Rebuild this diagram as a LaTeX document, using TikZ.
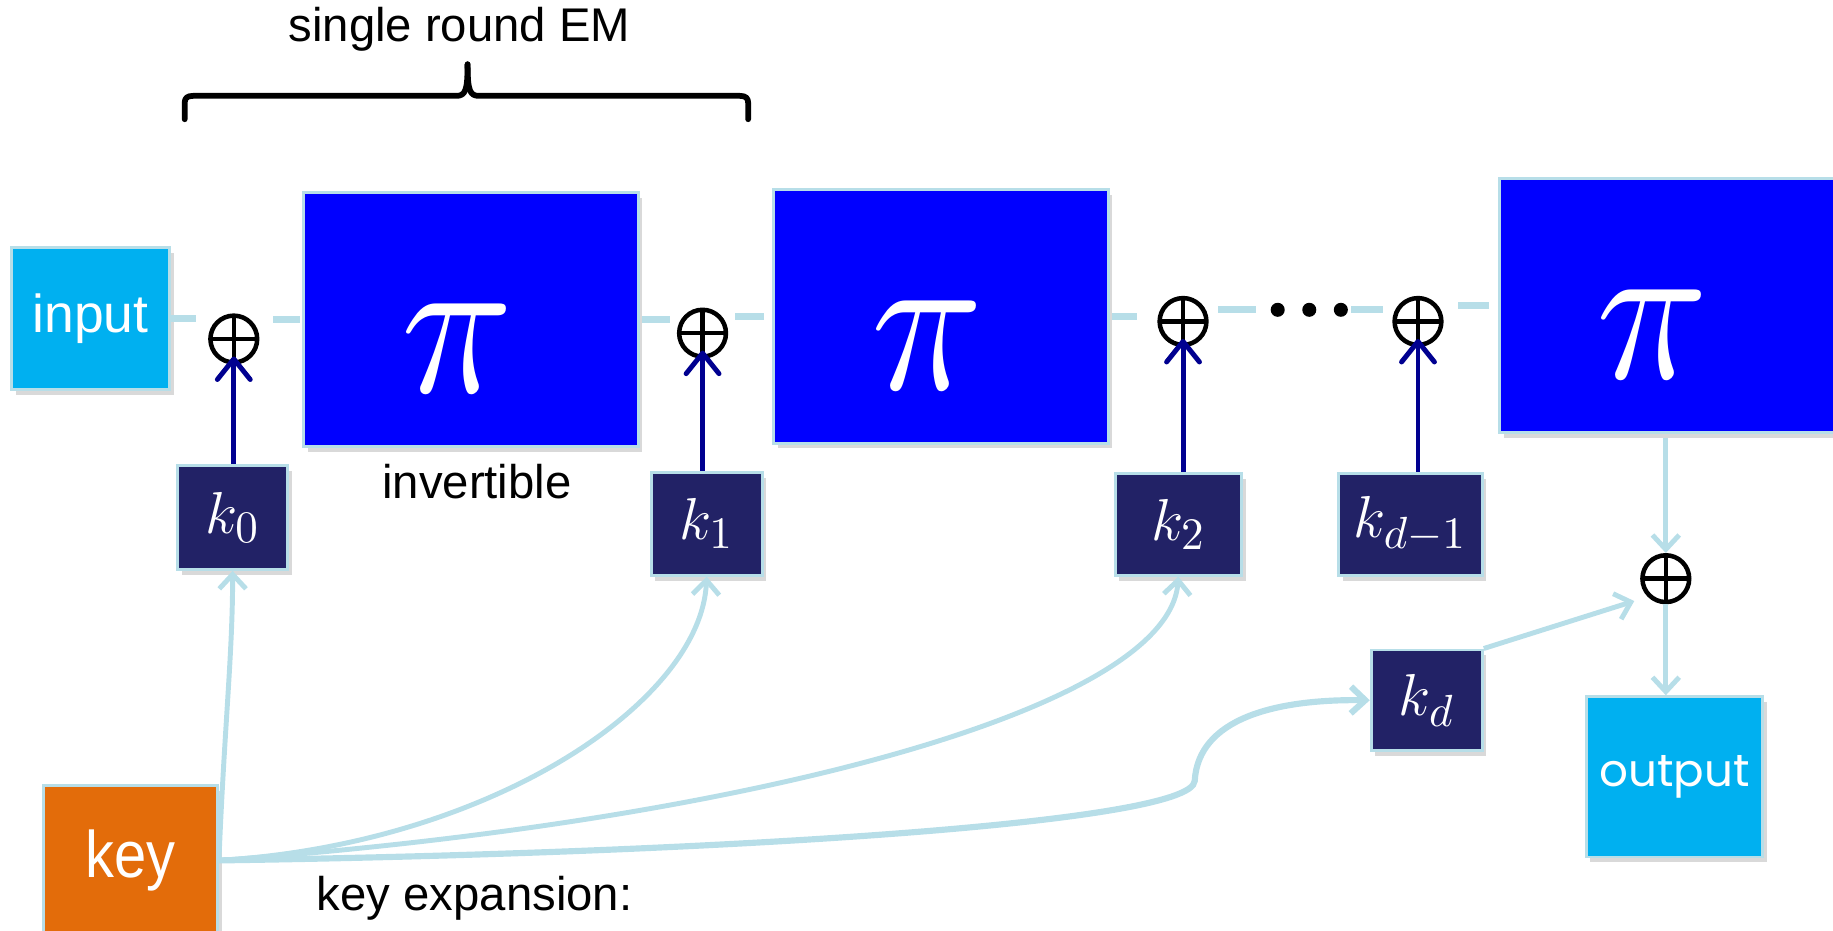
\documentclass[tikz,border=0pt]{standalone}
\usepackage{graphicx}
\usepackage{fontspec}
\setmainfont{Liberation Sans}
\newfontfamily\outfont{Poppins}
\usetikzlibrary{arrows.meta,shadows}
\definecolor{cyanbox}{HTML}{00B0F0}
\definecolor{pibl}{HTML}{0000FF}
\definecolor{knavy}{RGB}{34,34,102}
\definecolor{keyor}{RGB}{227,108,10}
\definecolor{lblue}{HTML}{B7DEE8}
\definecolor{darkar}{RGB}{0,0,144}
\begin{document}
\begin{tikzpicture}[x=0.01cm,y=-0.01cm,
  box/.style={draw=lblue, line width=0.7pt, inner sep=0pt,
    drop shadow={shadow xshift=1pt,shadow yshift=-1.3pt,opacity=0.3}},
  inbox/.style={box, fill=cyanbox, text=white},
  pibox/.style={box, fill=pibl, minimum width=2.86cm, minimum height=2.17cm},
  kbox/.style={box, fill=knavy, text=white, font=\fontsize{15}{15}\selectfont, minimum height=0.88cm},
  xorn/.style={circle, draw=black, line width=1.1pt, minimum size=0.4cm, inner sep=0pt,
    path picture={\draw[line width=1.1pt] (path picture bounding box.north) -- (path picture bounding box.south)
      (path picture bounding box.west) -- (path picture bounding box.east);}},
  pilabel/.style={text=white, xshift=-3.4pt, yshift=-7pt},
  hl/.style={draw=lblue, line width=1.7pt},
  darr/.style={draw=darkar, line width=1.2pt, -{Straight Barb[length=5pt,width=8pt,round]}},
  larr/.style={draw=lblue, line width=1.2pt, -{Straight Barb[length=3.5pt,width=6.5pt]}},
  txt/.style={font=\fontsize{11.5}{13}\selectfont, text=black},
  brace/.style={line width=1.4pt, line cap=round, line join=round}
]
\useasboundingbox (0,0) rectangle (1568,796);

% boxes
\node[inbox, minimum width=1.35cm, minimum height=1.21cm, font=\fontsize{13}{13}\selectfont] (inp) at (77.5,272.5) {input};
\node[pibox, label={[pilabel]center:\scalebox{4.5}[5.0]{$\pi$}}] (pi1) at (403,273.5) {};
\node[pibox, label={[pilabel]center:\scalebox{4.5}[5.0]{$\pi$}}] (pi2) at (805,270.5) {};
\node[pibox, label={[pilabel]center:\scalebox{4.5}[5.0]{$\pi$}}] (pi3) at (1426,261.5) {};

\node[kbox, minimum width=0.94cm, minimum height=0.89cm] (k0) at (199,442.5) {$k_0$};
\node[kbox, minimum width=0.95cm] (k1) at (604.5,448) {$k_1$};
\node[kbox, minimum width=1.08cm, minimum height=0.87cm] (k2) at (1008,448.5) {$k_2$};
\node[kbox, minimum width=1.23cm, minimum height=0.87cm] (kdm) at (1206.5,448.5) {$k_{d-1}$};
\node[kbox, minimum width=0.95cm, minimum height=0.86cm] (kd) at (1220.5,599) {$k_d$};

\node[inbox, minimum width=1.51cm, minimum height=1.37cm, font=\outfont\fontsize{11}{13}\selectfont] (out) at (1432.5,664.5) {output};
\node[box, fill=keyor, text=white, minimum width=1.49cm, minimum height=1.28cm, font=\fontsize{16}{16}\selectfont] (key) at (111.5,736) {\scalebox{0.88}[1]{key}};

% xor nodes
\node[xorn] (x1) at (200,290) {};
\node[xorn] (x2) at (601,285) {};
\node[xorn] (x3) at (1012,275) {};
\node[xorn] (x4) at (1213,275) {};
\node[xorn] (x5) at (1425,495) {};

% dots
\node[minimum width=0.66cm, minimum height=0.12cm, inner sep=0pt] (dots) at (1120,265) {};
\fill (1093,265) circle[radius=0.06cm];
\fill (1120,265) circle[radius=0.06cm];
\fill (1147,265) circle[radius=0.06cm];

% horizontal data line segments
\draw[hl, shorten >=0.1cm] (inp.east) -- (inp.east -| x1.west);
\draw[hl, shorten >=0.12cm, shorten <=0.02cm] (pi1.west) -- (pi1.west -| x1.east);
\draw[hl, shorten >=0.06cm, shorten <=0.02cm] (pi1.east) -- (pi1.east -| x2.west);
\draw[hl, shorten >=0.06cm, shorten <=0.07cm] (pi2.west) -- (pi2.west -| x2.east);
\draw[hl, shorten >=0.17cm, shorten <=0.02cm] (pi2.east) -- (pi2.east -| x3.west);
\draw[hl, shorten >=0.08cm, shorten <=0.12cm] (dots.west) -- (dots.west -| x3.east);
\draw[hl, shorten >=0.08cm, shorten <=0.02cm] (dots.east) -- (dots.east -| x4.west);
\draw[hl, shorten >=0.12cm, shorten <=0.08cm] (pi3.west) -- (pi3.west -| x4.east);

% key arrows into xors
\draw[darr, shorten >=-0.07cm] (k0.north -| x1.center) -- (x1.south);
\draw[darr, shorten >=-0.07cm] (k1.north -| x2.center) -- (x2.south);
\draw[darr, shorten >=-0.07cm] (k2.north -| x3.center) -- (x3.south);
\draw[darr, shorten >=-0.07cm] (kdm.north -| x4.center) -- (x4.south);

% final whitening
\draw[larr, shorten <=0.03cm] (pi3.south -| x5.north) -- (x5.north);
\draw[larr] (x5.south) -- (x5.south |- out.north);
\draw[larr, shorten >=0.12cm] (kd.north east) -- (x5.south west);

% key expansion curves
\coordinate (kbend) at (1022,668);
\draw[larr] (key.east) .. controls (192,620) and (199,560) .. (k0.south);
\draw[larr] (key.east) .. controls (420,722) and (600,600) .. (k1.south);
\draw[larr] (key.east) .. controls (620,705) and (1000,610) .. (k2.south);
\draw[larr, line width=1.5pt] (key.east) .. controls (600,730) and (1020,705) .. (kbend)
   .. controls (1025,615) and (1090,598) .. (kd.west);

% texts
\node[txt] (lblem) at (393,25) {single round EM};
\node[txt] (lblinv) at (408,412) {invertible};
\node[txt] (lblexp) at (406,768) {key expansion:};

% brace
\draw[brace] (158,102) -- (158,88) .. controls (158,84) and (160,82) .. (165,82) -- (390,82)
   .. controls (398,82) and (400,78) .. (400,55);
\draw[brace] (400,55) .. controls (400,78) and (402,82) .. (410,82) -- (633,82)
   .. controls (638,82) and (640,84) .. (640,88) -- (640,102);
\end{tikzpicture}
\end{document}
